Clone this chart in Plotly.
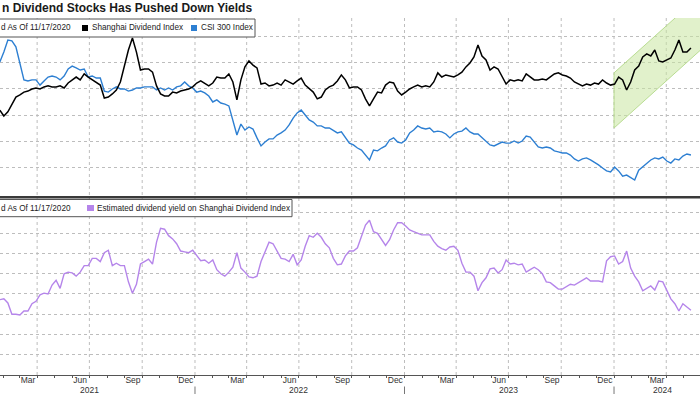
import pandas as pd
import plotly.graph_objects as go

# ---------------- data ----------------
week_dates = pd.date_range("2021-01-26", periods=173, freq="7D")

shanghai_dividend = [
    101.9, 99.6, 101.2, 104.2, 106.9, 107.7, 108.8, 109.2, 110.0, 110.4,
    110.0, 110.8, 111.2, 110.8, 110.8, 111.2, 110.4, 112.3, 113.5, 114.6,
    113.5, 115.8, 114.6, 113.5, 112.7, 111.5, 106.5, 106.9, 108.1, 109.6,
    112.7, 118.8, 125.0, 129.6, 124.2, 117.3, 117.7, 117.7, 116.5, 111.2,
    108.1, 107.3, 107.3, 108.8, 108.5, 109.2, 109.6, 110.0, 110.8, 112.3,
    113.1, 112.3, 111.2, 112.3, 114.6, 114.2, 114.2, 115.8, 112.7, 105.8,
    113.5, 118.5, 120.8, 119.2, 118.1, 111.9, 112.3, 111.2, 111.5, 112.3,
    111.5, 113.5, 112.7, 111.9, 113.1, 114.2, 111.5, 110.0, 108.8, 106.2,
    106.9, 109.6, 110.8, 111.5, 113.1, 115.4, 113.5, 110.4, 110.8, 110.8,
    109.6, 106.2, 103.5, 106.2, 108.8, 108.5, 111.5, 112.7, 112.3, 109.2,
    107.7, 108.8, 110.0, 110.8, 111.5, 110.8, 111.2, 110.8, 112.7, 116.2,
    114.6, 115.4, 115.0, 114.6, 115.4, 116.5, 118.5, 120.0, 122.3, 126.9,
    122.7, 121.2, 117.3, 118.5, 117.7, 115.0, 111.9, 113.5, 113.1, 113.5,
    113.1, 115.8, 114.6, 113.5, 113.5, 113.8, 113.5, 114.6, 115.8, 116.2,
    115.4, 115.0, 114.2, 112.7, 111.9, 111.2, 111.9, 111.5, 112.3, 111.9,
    113.5, 112.3, 111.5, 111.9, 114.6, 113.5, 109.6, 112.7, 117.3, 118.8,
    122.3, 123.5, 122.7, 125.0, 120.8, 120.4, 121.2, 121.9, 125.0, 128.8,
    124.2, 124.2, 125.8,
]

csi300 = [
    120.4, 124.2, 128.8, 128.5, 126.2, 119.2, 113.5, 113.1, 113.5, 113.5,
    111.5, 113.1, 114.6, 115.0, 114.6, 113.5, 115.0, 117.7, 118.8, 118.1,
    117.3, 117.7, 114.6, 115.0, 114.2, 114.2, 109.2, 108.8, 110.0, 110.8,
    110.0, 110.0, 109.2, 109.6, 110.4, 110.4, 110.8, 110.8, 110.8, 109.6,
    110.4, 109.6, 110.4, 109.6, 110.8, 111.2, 112.7, 111.2, 110.4, 108.8,
    109.2, 108.5, 107.3, 105.0, 105.8, 104.6, 104.2, 103.5, 98.1, 92.3,
    96.5, 94.2, 95.4, 94.6, 91.2, 88.1, 89.6, 90.8, 90.8, 92.3,
    93.1, 94.2, 96.2, 98.8, 100.8, 101.9, 100.0, 98.1, 97.3, 95.8,
    95.8, 95.0, 95.0, 94.2, 93.1, 93.5, 91.2, 89.2, 88.5, 87.3,
    86.5, 84.6, 82.7, 86.5, 86.2, 87.3, 88.1, 90.4, 91.2, 89.6,
    89.2, 90.4, 93.1, 94.2, 95.8, 95.0, 94.6, 95.0, 93.5, 93.8,
    93.5, 92.7, 91.2, 92.7, 93.5, 93.8, 95.0, 93.5, 92.7, 92.7,
    91.2, 90.0, 88.5, 88.1, 88.8, 89.6, 89.2, 89.2, 90.0, 89.2,
    90.0, 91.9, 91.5, 89.6, 87.7, 87.3, 87.7, 87.3, 86.2, 85.8,
    85.4, 85.4, 84.6, 83.1, 82.3, 83.1, 83.5, 82.7, 81.9, 80.8,
    79.6, 78.5, 78.1, 80.0, 78.5, 76.5, 76.9, 75.8, 75.0, 78.8,
    80.0, 81.2, 82.7, 83.5, 83.1, 83.8, 82.3, 81.5, 83.1, 82.7,
    84.2, 85.0, 84.6,
]

dividend_yield = [
    4.93, 4.94, 4.89, 4.75, 4.75, 4.74, 4.79, 4.79, 4.88, 4.91,
    4.99, 5.01, 5.00, 5.11, 5.17, 5.07, 5.25, 5.27, 5.26, 5.22,
    5.27, 5.35, 5.35, 5.44, 5.44, 5.40, 5.51, 5.54, 5.35, 5.38,
    5.35, 5.35, 5.15, 5.01, 5.12, 5.37, 5.40, 5.43, 5.37, 5.64,
    5.81, 5.80, 5.72, 5.68, 5.62, 5.53, 5.52, 5.51, 5.54, 5.48,
    5.41, 5.42, 5.38, 5.42, 5.30, 5.25, 5.22, 5.27, 5.33, 5.51,
    5.32, 5.27, 5.21, 5.20, 5.22, 5.40, 5.52, 5.64, 5.62, 5.53,
    5.44, 5.43, 5.40, 5.49, 5.36, 5.42, 5.59, 5.72, 5.70, 5.75,
    5.70, 5.62, 5.57, 5.44, 5.36, 5.37, 5.47, 5.53, 5.53, 5.57,
    5.70, 5.85, 5.91, 5.77, 5.75, 5.67, 5.60, 5.67, 5.79, 5.88,
    5.88, 5.84, 5.79, 5.77, 5.75, 5.73, 5.73, 5.73, 5.65, 5.59,
    5.56, 5.54, 5.58, 5.59, 5.54, 5.38, 5.27, 5.27, 5.22, 5.04,
    5.14, 5.20, 5.31, 5.32, 5.26, 5.30, 5.42, 5.37, 5.38, 5.36,
    5.37, 5.27, 5.30, 5.33, 5.30, 5.25, 5.15, 5.14, 5.10, 5.06,
    5.06, 5.09, 5.12, 5.11, 5.14, 5.17, 5.20, 5.16, 5.16, 5.16,
    5.15, 5.41, 5.46, 5.47, 5.37, 5.40, 5.53, 5.32, 5.22, 5.15,
    5.04, 5.07, 5.10, 5.05, 5.16, 5.15, 5.05, 4.94, 4.88, 4.79,
    4.88, 4.84, 4.80,
]

# trend channel drawn on the top panel
channel_dates = ["2024-01-01", "2024-01-01", "2024-06-30", "2024-06-30", "2024-01-01"]
channel_values = [116.2, 95.0, 131.0, 152.1, 116.2]

# axis ticks / labels
tick_dates = ["2021-03-16", "2021-06-15", "2021-09-15", "2021-12-16",
              "2022-03-16", "2022-06-15", "2022-09-15", "2022-12-16",
              "2023-03-16", "2023-06-15", "2023-09-15", "2023-12-16",
              "2024-03-16"]
tick_labels = ["Mar", "Jun", "Sep", "Dec", "Mar", "Jun", "Sep", "Dec",
               "Mar", "Jun", "Sep", "Dec", "Mar"]
year_labels = ["2021", "2022", "2023", "2024"]
year_label_dates = ["2021-07-01", "2022-07-01", "2023-07-01", "2024-03-26"]
year_starts = ["2022-01-01", "2023-01-01", "2024-01-01"]
quarter_starts = [d.strftime("%Y-%m-%d") for d in pd.date_range("2021-04-01", "2024-04-01", freq="QS")]
month_starts = [d.strftime("%Y-%m-%d") for d in pd.date_range("2021-02-01", "2024-05-01", freq="MS")]
index_grid = [80, 90, 100, 110, 120, 130]
yield_grid = [4.25, 4.5, 4.75, 5.0, 5.25, 5.5, 5.75, 6.0]

title_text = "n Dividend Stocks Has Pushed Down Yields"
legend_prefix = "d As Of 11/17/2020"
name_sdi = "Shanghai Dividend Index"
name_csi = "CSI 300 Index"
name_yield = "Estimated dividend yield on Shanghai Dividend Index"

# ---------------- styling ----------------
BLACK = "#000000"
BLUE = "#2d7fd2"
PURPLE = "#b585ea"
GRID = "#bdbdbd"
FONT = "Liberation Sans, Arial, sans-serif"
H = 375.0  # plot-area height in px (figure 394 minus bottom margin)


def fy(px):
    return (H - px) / H


def fx(px):
    return px / 700.0


fig = go.Figure()

fig.add_trace(go.Scatter(
    x=channel_dates, y=channel_values, mode="lines", fill="toself",
    fillcolor="rgba(200,230,160,0.55)", line=dict(color="#b9dc92", width=1),
    xaxis="x2", yaxis="y2", hoverinfo="skip", showlegend=False))
fig.add_trace(go.Scatter(
    x=week_dates, y=csi300, mode="lines", name=name_csi,
    line=dict(color=BLUE, width=1.4), xaxis="x2", yaxis="y2", showlegend=False))
fig.add_trace(go.Scatter(
    x=week_dates, y=shanghai_dividend, mode="lines", name=name_sdi,
    line=dict(color=BLACK, width=1.5), xaxis="x2", yaxis="y2", showlegend=False))
fig.add_trace(go.Scatter(
    x=week_dates, y=dividend_yield, mode="lines", name=name_yield,
    line=dict(color=PURPLE, width=1.4), xaxis="x", yaxis="y", showlegend=False))

shapes = []
for q in quarter_starts:
    shapes.append(dict(type="line", xref="x", yref="paper", x0=q, x1=q,
                       y0=0, y1=fy(18), layer="below",
                       line=dict(color=GRID, width=1, dash="dot")))
for ys in year_starts:
    shapes.append(dict(type="line", xref="x", yref="paper", x0=ys, x1=ys,
                       y0=fy(386.5), y1=fy(394), line=dict(color="#777", width=1)))
# panel separator
shapes.append(dict(type="line", xref="paper", yref="paper", x0=0, x1=1,
                   y0=fy(197.3), y1=fy(197.3), line=dict(color="#3a3a3a", width=2.6)))
# legend boxes
shapes.append(dict(type="rect", xref="paper", yref="paper", x0=-0.02, x1=fx(255),
                   y0=fy(37), y1=fy(19), fillcolor="white", line=dict(color="#555", width=1)))
shapes.append(dict(type="rect", xref="paper", yref="paper", x0=fx(82), x1=fx(88),
                   y0=fy(31), y1=fy(25), fillcolor=BLACK, line=dict(width=0)))
shapes.append(dict(type="rect", xref="paper", yref="paper", x0=fx(191), x1=fx(197),
                   y0=fy(31), y1=fy(25), fillcolor=BLUE, line=dict(width=0)))
shapes.append(dict(type="rect", xref="paper", yref="paper", x0=-0.02, x1=fx(292),
                   y0=fy(216.7), y1=fy(199.5), fillcolor="white", line=dict(color="#555", width=1)))
shapes.append(dict(type="rect", xref="paper", yref="paper", x0=fx(87), x1=fx(94),
                   y0=fy(211), y1=fy(205), fillcolor=PURPLE, line=dict(width=0)))

ann_font = dict(family=FONT, size=8.2, color="#222")
annotations = [
    dict(text=f"<b>{title_text}</b>", xref="paper", yref="paper", x=0, y=fy(7.5),
         xanchor="left", yanchor="middle", showarrow=False,
         font=dict(family=FONT, size=12, color="#1a1a1a")),
    dict(text=legend_prefix, xref="paper", yref="paper", x=fx(-1), y=fy(28),
         xanchor="left", yanchor="middle", showarrow=False, font=ann_font),
    dict(text=name_sdi, xref="paper", yref="paper", x=fx(90), y=fy(28),
         xanchor="left", yanchor="middle", showarrow=False, font=ann_font),
    dict(text=name_csi, xref="paper", yref="paper", x=fx(199), y=fy(28),
         xanchor="left", yanchor="middle", showarrow=False, font=ann_font),
    dict(text=legend_prefix, xref="paper", yref="paper", x=fx(-1), y=fy(208),
         xanchor="left", yanchor="middle", showarrow=False, font=ann_font),
    dict(text=name_yield, xref="paper", yref="paper", x=fx(95), y=fy(208),
         xanchor="left", yanchor="middle", showarrow=False, font=ann_font),
]
for lbl, d in zip(year_labels, year_label_dates):
    annotations.append(dict(text=lbl, xref="x", yref="paper", x=d, y=fy(390.5),
                            xanchor="center", yanchor="middle", showarrow=False,
                            font=dict(family=FONT, size=8.5, color="#333")))

x_range = ["2021-01-26 07:00", "2024-05-29 19:00"]

fig.update_layout(
    width=700, height=394,
    margin=dict(l=0, r=0, t=0, b=19, pad=0),
    paper_bgcolor="white", plot_bgcolor="white",
    showlegend=False,
    xaxis=dict(domain=[0, 1], anchor="y", type="date", range=x_range,
               tickmode="array", tickvals=tick_dates, ticktext=tick_labels,
               ticks="", showgrid=False, zeroline=False,
               ticklabelstandoff=-3,
               showline=True, linecolor="#555", linewidth=1,
               tickfont=dict(family=FONT, size=8.5, color="#333"),
               minor=dict(tickmode="array", tickvals=month_starts, ticks="outside",
                          ticklen=2, tickcolor="#555", tickwidth=1, showgrid=False)),
    xaxis2=dict(matches="x", anchor="y2", type="date", showticklabels=False,
                showgrid=False, ticks="", showline=False, zeroline=False),
    yaxis=dict(domain=[0, fy(198)], range=[4.0, 6.185], tickmode="array",
               tickvals=yield_grid, showticklabels=False, ticks="",
               showgrid=True, gridcolor=GRID, griddash="dot", gridwidth=1,
               zeroline=False, showline=False),
    yaxis2=dict(domain=[fy(196), fy(18)], range=[68.85, 137.3], tickmode="array",
                tickvals=index_grid, showticklabels=False, ticks="",
                showgrid=True, gridcolor=GRID, griddash="dot", gridwidth=1,
                zeroline=False, showline=False),
    shapes=shapes,
    annotations=annotations,
)

fig.write_html("out.html", config={"displayModeBar": False},
               post_script="document.body.style.margin='0px';")
